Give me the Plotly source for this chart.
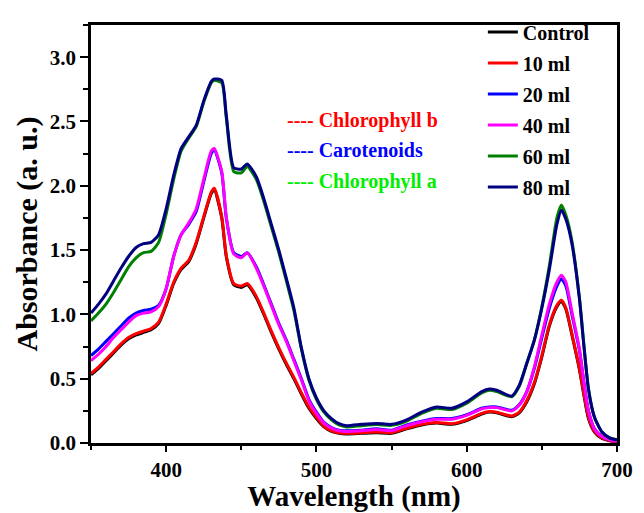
import plotly.graph_objects as go

wavelength = [350, 355, 360, 365, 370, 375, 380, 385, 390, 395, 400, 405, 410, 415, 420, 425, 430, 432, 437, 440, 445, 450, 454, 460, 465, 470, 475, 480, 485, 490, 495, 500, 505, 510, 515, 520, 530, 540, 550, 560, 570, 580, 590, 600, 610, 615, 620, 630, 635, 640, 645, 650, 655, 660, 663, 666, 670, 675, 678, 681, 685, 690, 695, 700]

control = [0.53, 0.58, 0.64, 0.70, 0.76, 0.81, 0.84, 0.86, 0.88, 0.93, 1.07, 1.24, 1.35, 1.41, 1.55, 1.75, 1.94, 1.97, 1.75, 1.45, 1.23, 1.21, 1.23, 1.13, 1.00, 0.86, 0.73, 0.61, 0.50, 0.38, 0.27, 0.19, 0.125, 0.09, 0.075, 0.07, 0.075, 0.08, 0.075, 0.11, 0.14, 0.155, 0.145, 0.175, 0.225, 0.24, 0.235, 0.205, 0.235, 0.32, 0.46, 0.67, 0.91, 1.06, 1.10, 1.04, 0.84, 0.57, 0.37, 0.19, 0.085, 0.035, 0.018, 0.01]
ml10 = [0.54, 0.59, 0.65, 0.71, 0.77, 0.82, 0.85, 0.87, 0.89, 0.94, 1.08, 1.25, 1.36, 1.42, 1.56, 1.76, 1.95, 1.98, 1.76, 1.46, 1.24, 1.22, 1.24, 1.14, 1.01, 0.87, 0.74, 0.62, 0.51, 0.39, 0.28, 0.20, 0.13, 0.095, 0.08, 0.075, 0.08, 0.085, 0.08, 0.115, 0.145, 0.16, 0.15, 0.18, 0.23, 0.245, 0.24, 0.21, 0.24, 0.33, 0.47, 0.68, 0.92, 1.07, 1.11, 1.05, 0.85, 0.58, 0.38, 0.20, 0.09, 0.04, 0.02, 0.01]
ml20 = [0.68, 0.73, 0.79, 0.85, 0.91, 0.97, 1.01, 1.03, 1.04, 1.07, 1.20, 1.45, 1.62, 1.70, 1.80, 2.03, 2.25, 2.28, 2.10, 1.75, 1.48, 1.45, 1.48, 1.37, 1.23, 1.08, 0.93, 0.80, 0.65, 0.50, 0.34, 0.24, 0.16, 0.12, 0.10, 0.095, 0.10, 0.11, 0.10, 0.14, 0.17, 0.19, 0.19, 0.22, 0.27, 0.28, 0.28, 0.255, 0.30, 0.40, 0.58, 0.82, 1.05, 1.22, 1.275, 1.22, 1.00, 0.72, 0.47, 0.25, 0.11, 0.05, 0.025, 0.015]
ml40 = [0.64, 0.69, 0.75, 0.82, 0.88, 0.94, 0.99, 1.01, 1.02, 1.06, 1.20, 1.45, 1.62, 1.71, 1.82, 2.05, 2.27, 2.29, 2.11, 1.76, 1.47, 1.44, 1.48, 1.36, 1.22, 1.07, 0.92, 0.79, 0.64, 0.49, 0.33, 0.23, 0.155, 0.115, 0.095, 0.09, 0.095, 0.105, 0.095, 0.135, 0.165, 0.185, 0.185, 0.215, 0.265, 0.275, 0.275, 0.25, 0.295, 0.40, 0.59, 0.84, 1.08, 1.25, 1.305, 1.25, 1.02, 0.73, 0.47, 0.25, 0.11, 0.05, 0.025, 0.015]
ml60 = [0.95, 1.01, 1.08, 1.17, 1.27, 1.37, 1.44, 1.48, 1.49, 1.56, 1.78, 2.05, 2.27, 2.37, 2.46, 2.65, 2.80, 2.82, 2.80, 2.53, 2.11, 2.10, 2.15, 2.05, 1.88, 1.68, 1.48, 1.26, 1.03, 0.73, 0.49, 0.34, 0.24, 0.18, 0.14, 0.125, 0.135, 0.143, 0.137, 0.17, 0.23, 0.27, 0.26, 0.31, 0.39, 0.41, 0.40, 0.36, 0.44, 0.62, 0.80, 1.06, 1.38, 1.75, 1.85, 1.77, 1.57, 1.13, 0.76, 0.42, 0.20, 0.085, 0.04, 0.025]
ml80 = [1.01, 1.08, 1.16, 1.26, 1.36, 1.45, 1.52, 1.55, 1.56, 1.62, 1.82, 2.08, 2.29, 2.38, 2.47, 2.66, 2.81, 2.83, 2.82, 2.55, 2.14, 2.13, 2.17, 2.07, 1.90, 1.70, 1.50, 1.28, 1.05, 0.74, 0.50, 0.35, 0.25, 0.19, 0.15, 0.135, 0.145, 0.152, 0.145, 0.18, 0.24, 0.28, 0.27, 0.32, 0.40, 0.42, 0.41, 0.365, 0.45, 0.62, 0.80, 1.05, 1.35, 1.70, 1.81, 1.74, 1.55, 1.12, 0.75, 0.42, 0.20, 0.085, 0.04, 0.025]

series_names = ["Control", "10 ml", "20 ml", "40 ml", "60 ml", "80 ml"]
series_values = [control, ml10, ml20, ml40, ml60, ml80]
series_colors = ["#000000", "#ff0000", "#0000ff", "#ff00ff", "#008000", "#000080"]

x_ticks = [400, 500, 600, 700]
y_ticks = [0.0, 0.5, 1.0, 1.5, 2.0, 2.5, 3.0]

pigment_labels = ["---- Chlorophyll b", "---- Carotenoids", "---- Chlorophyll a"]
pigment_colors = ["#ff0000", "#0000ff", "#00ee00"]

FONT = "Liberation Serif, Times New Roman, serif"

fig = go.Figure()
for name, vals, col in zip(series_names, series_values, series_colors):
    fig.add_trace(go.Scatter(
        x=wavelength, y=vals, mode="lines", name=name, legendgroup=name,
        line=dict(color=col, width=3, shape="spline", smoothing=0.6),
    ))

for i, (txt, col) in enumerate(zip(pigment_labels, pigment_colors)):
    fig.add_annotation(
        x=0.369, y=[0.771, 0.701, 0.626][i], xref="paper", yref="paper",
        text=txt, showarrow=False, xanchor="left", yanchor="middle",
        font=dict(family=FONT, size=20, color=col, weight="bold"),
    )

axis_common = dict(
    showline=True, linewidth=2.5, linecolor="black", mirror=True,
    ticks="outside", tickwidth=2, tickcolor="black",
    showgrid=False, zeroline=False, automargin=False,
    tickfont=dict(family=FONT, size=21, color="black", weight="bold"),
)

fig.update_layout(
    width=644, height=513,
    margin=dict(l=91, r=27, t=15, b=70),
    plot_bgcolor="white", paper_bgcolor="white",
    xaxis=dict(range=[350, 700], tickvals=x_ticks, ticktext=[str(v) for v in x_ticks], ticklen=6,
               minor=dict(tickvals=[350, 450, 550, 650], ticks="outside", ticklen=4, tickwidth=2, tickcolor="black"),
               title=dict(text="Wavelength (nm)", standoff=10,
                          font=dict(family=FONT, size=29, color="black", weight="bold")),
               **axis_common),
    yaxis=dict(range=[0, 3.25], tickvals=y_ticks, ticktext=[f"{v:.1f}" for v in y_ticks], ticklen=8,
               minor=dict(dtick=0.25, tick0=0, ticks="outside", ticklen=5, tickwidth=2, tickcolor="black"),
               title=dict(text="Absorbance (a. u.)", standoff=4,
                          font=dict(family=FONT, size=30, color="black", weight="bold")),
               **axis_common),
    legend=dict(x=0.745, y=1.03, xanchor="left", yanchor="top", bgcolor="rgba(0,0,0,0)",
                tracegroupgap=2, itemwidth=30,
                font=dict(family=FONT, size=20, color="black", weight="bold")),
    showlegend=True,
)

fig.write_html("out.html")
